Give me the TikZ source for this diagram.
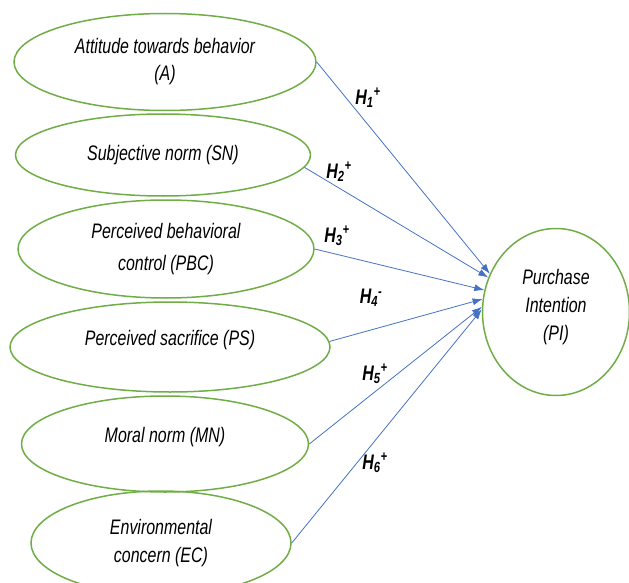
\documentclass[tikz,border=0pt]{standalone}
\usepackage{fontspec}
\setmainfont{Liberation Sans}[FakeStretch=0.76]
\usepackage{tikz}
\usepackage{xcolor}
\definecolor{ovalgreen}{HTML}{70AD47}
\definecolor{linkblue}{HTML}{4472C4}
\tikzset{factor/.style={ellipse,draw=ovalgreen,line width=1.5pt,inner sep=0pt,
   align=center,font=\fontsize{21}{27}\selectfont\itshape},
 link/.style={draw=linkblue,line width=0.8pt,-{Latex[length=10pt,width=7pt]}},
 hyp/.style={font=\fontsize{21}{22}\selectfont\bfseries\itshape},
 }
\usetikzlibrary{shapes}
\usetikzlibrary{arrows.meta}

\begin{document}
\begin{tikzpicture}[x=1pt,y=-1pt]
        \useasboundingbox (0,0) rectangle (629,583);
        \node[factor,minimum width=302pt,minimum height=97pt] (A) at (165,62) {Attitude towards behavior\\(A)};
        \node[factor,minimum width=295pt,minimum height=82pt] (SN) at (163,155) {Subjective norm (SN)};
        \node[factor,minimum width=296pt,minimum height=98pt,font=\fontsize{21}{32}\selectfont\itshape] (PBC) at (166,249) {Perceived behavioral\\control (PBC)};
        \node[factor,minimum width=320pt,minimum height=90pt,text depth=18pt] (PS) at (170,347) {Perceived sacrifice (PS)};
        \node[factor,minimum width=287pt,minimum height=96pt,text depth=18pt] (MN) at (165,444) {Moral norm (MN)};
        \node[factor,minimum width=260pt,minimum height=104pt,font=\fontsize{21}{28}\selectfont\itshape] (EC) at (161,543) {Environmental\\concern (EC)};
        \node[factor,minimum width=147pt,minimum height=167pt,text depth=14pt,font=\fontsize{21}{28}\selectfont\itshape] (PI) at (556,312) {Purchase\\Intention\\(PI)};
        \draw[link] (A.east) -- (PI.150);
        \draw[link] (SN.-5) -- (PI.153);
        \draw[link] (PBC.east) -- (PI.163);
        \draw[link] (PS.2) -- (PI.170);
        \draw[link] (MN.east) -- (PI.176);
        \draw[link] (EC.east) -- (PI.178);
        \node[hyp] (h1) at (368,98) {H\textsubscript{1}\textsuperscript{+}};
        \node[hyp] (h2) at (339,172) {H\textsubscript{2}\textsuperscript{+}};
        \node[hyp] (h3) at (337,236) {H\textsubscript{3}\textsuperscript{+}};
        \node[hyp] (h4) at (371,298) {H\textsubscript{4}\textsuperscript{-}};
        \node[hyp] (h5) at (375,374) {H\textsubscript{5}\textsuperscript{+}};
        \node[hyp] (h6) at (375,463) {H\textsubscript{6}\textsuperscript{+}};
    \end{tikzpicture}
\end{document}
